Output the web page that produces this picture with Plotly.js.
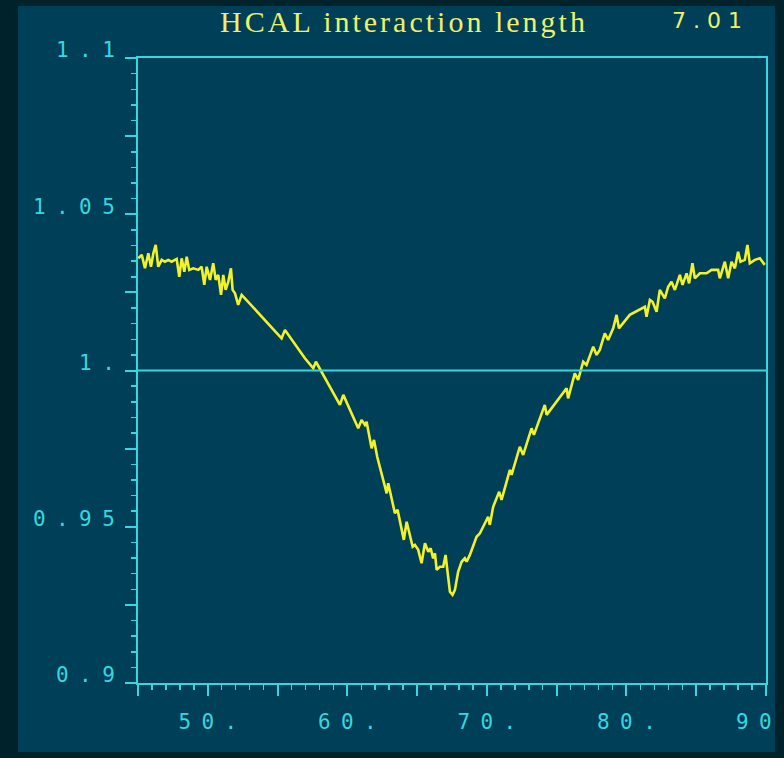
<!DOCTYPE html>
<html>
<head>
<meta charset="utf-8">
<script src="https://cdn.plot.ly/plotly-3.0.1.min.js"></script>
<style>
  html, body { margin: 0; padding: 0; background: #00222b; width: 784px; height: 758px; overflow: hidden; }
  #chart { position: absolute; left: 18px; top: 6px; width: 757px; height: 746px; overflow: hidden; background: #003f58; }
</style>
</head>
<body>
<div id="chart"></div>
<script>
// Data
const xVals = [45.02,45.27,45.50,45.74,45.93,46.10,46.27,46.45,46.70,46.93,47.17,47.41,47.77,47.96,48.13,48.32,48.49,48.67,48.96,49.32,49.56,49.75,49.92,50.16,50.39,50.57,50.75,50.95,51.11,51.28,51.47,51.66,51.78,51.95,52.18,52.43,52.66,55.29,55.53,56.96,57.56,57.75,59.47,59.71,60.78,61.02,61.26,61.38,61.74,61.91,62.14,62.82,62.93,63.41,63.60,64.05,64.25,64.68,64.84,65.08,65.32,65.56,65.80,65.97,66.15,66.28,66.40,66.63,66.87,67.04,67.18,67.35,67.54,67.71,67.94,68.19,68.42,68.55,68.78,69.26,69.50,69.74,70.09,70.21,70.45,70.88,71.05,71.65,71.77,72.36,72.60,73.20,73.37,74.15,74.28,75.71,75.82,76.30,76.54,76.90,77.14,77.62,77.86,78.09,78.45,78.69,79.05,79.29,79.46,80.24,81.32,81.44,81.68,81.87,82.16,82.39,82.75,82.99,83.23,83.47,83.83,84.02,84.31,84.49,84.73,84.90,85.26,85.74,86.10,86.57,86.69,87.05,87.29,87.53,87.77,88.00,88.17,88.48,88.67,88.84,89.20,89.56,89.91];
const yVals = [1.0359,1.0370,1.0327,1.0375,1.0332,1.0375,1.0402,1.0332,1.0354,1.0348,1.0354,1.0348,1.0357,1.0300,1.0359,1.0316,1.0364,1.0322,1.0327,1.0322,1.0332,1.0274,1.0332,1.0290,1.0343,1.0290,1.0306,1.0242,1.0306,1.0258,1.0284,1.0327,1.0258,1.0247,1.0210,1.0242,1.0231,1.0103,1.0130,1.0039,1.0007,1.0028,0.9890,0.9922,0.9815,0.9842,0.9826,0.9836,0.9751,0.9778,0.9724,0.9607,0.9639,0.9543,0.9554,0.9458,0.9516,0.9436,0.9442,0.9426,0.9383,0.9447,0.9420,0.9431,0.9399,0.9415,0.9362,0.9372,0.9372,0.9410,0.9356,0.9292,0.9282,0.9298,0.9356,0.9388,0.9399,0.9388,0.9410,0.9468,0.9479,0.9500,0.9532,0.9506,0.9564,0.9612,0.9586,0.9682,0.9666,0.9756,0.9730,0.9815,0.9794,0.9890,0.9858,0.9943,0.9911,0.9991,0.9970,1.0028,1.0018,1.0076,1.0050,1.0066,1.0119,1.0098,1.0135,1.0178,1.0135,1.0178,1.0204,1.0172,1.0226,1.0220,1.0188,1.0258,1.0231,1.0268,1.0284,1.0258,1.0306,1.0274,1.0311,1.0279,1.0343,1.0295,1.0311,1.0311,1.0322,1.0322,1.0295,1.0348,1.0295,1.0348,1.0327,1.0380,1.0348,1.0354,1.0402,1.0343,1.0354,1.0359,1.0338];

const xTickVals = [45,50,55,60,65,70,75,80,85,90];
const xTickLabels = ["","50.","","60.","","70.","","80.","",""];
const lastXVal = 90;
const lastXLabel = "90";   // drawn at the right edge, clipped in the original
const yTickVals = [0.9,0.925,0.95,0.975,1.0,1.025,1.05,1.075,1.1];
const yTickLabels = ["0.9","","0.95","","1.","","1.05","","1.1"];
const refLevel = 1.0;
const titleText = "HCAL interaction length";
const valueText = "7 . 0 1";

const CYAN = '#38d6de';
const YEL = '#f2f22a';

// wide character spacing like the original display (no trailing gap after last char)
function spaced(s) {
  if (s.length < 2) return s;
  return '<span style="letter-spacing:10.4px">' + s.slice(0, -1) + '</span>' + s.slice(-1);
}

const trace = {
  x: xVals, y: yVals, type: 'scatter', mode: 'lines',
  line: {color: YEL, width: 2.6}, hoverinfo: 'skip', showlegend: false
};

const layout = {
  width: 757, height: 746,
  paper_bgcolor: '#003f58', plot_bgcolor: '#003f58',
  margin: {l: 120, r: 9, t: 52, b: 69},
  showlegend: false,
  title: {
    text: '<span style="letter-spacing:3px">' + titleText + '</span>',
    x: (404-18)/757, xanchor: 'center', xref: 'container',
    y: 1 - (21-6)/746, yanchor: 'middle', yref: 'container',
    font: {family: 'Liberation Serif', size: 30, color: '#eef06a'}
  },
  xaxis: {
    range: [45, 90], showgrid: false, zeroline: false,
    showline: true, linecolor: CYAN, linewidth: 2, mirror: true,
    ticks: 'outside', ticklen: 11, tickwidth: 2, tickcolor: CYAN,
    tickmode: 'array', tickvals: xTickVals, ticktext: xTickLabels.map(spaced),
    tickfont: {family: 'DejaVu Sans Mono', size: 21, color: CYAN},
    ticklabelstandoff: 8, ticklabeloverflow: 'allow',
    minor: {dtick: 1, tick0: 45, ticks: 'outside', ticklen: 5, tickwidth: 1.5, tickcolor: CYAN, showgrid: false}
  },
  yaxis: {
    range: [0.9, 1.1], showgrid: false, zeroline: false,
    showline: true, linecolor: CYAN, linewidth: 2, mirror: true,
    ticks: 'outside', ticklen: 11, tickwidth: 2, tickcolor: CYAN,
    tickmode: 'array', tickvals: yTickVals, ticktext: yTickLabels.map(spaced),
    tickfont: {family: 'DejaVu Sans Mono', size: 21, color: CYAN},
    ticklabelshift: -8, ticklabelstandoff: 6, ticklabeloverflow: 'allow',
    minor: {dtick: 0.005, tick0: 0.9, ticks: 'outside', ticklen: 5, tickwidth: 1.5, tickcolor: CYAN, showgrid: false}
  },
  shapes: [{
    type: 'line', xref: 'paper', yref: 'y', x0: 0, x1: 1, y0: refLevel, y1: refLevel,
    line: {color: CYAN, width: 2}
  }],
  annotations: [{
    text: valueText, xref: 'paper', yref: 'paper',
    x: (707-138)/628, y: (683-20)/625, xanchor: 'center', yanchor: 'middle',
    showarrow: false, font: {family: 'DejaVu Sans', size: 22, color: '#eef06a'}
  }, {
    text: spaced(lastXLabel), xref: 'x', yref: 'paper',
    x: lastXVal, xshift: 8, xanchor: 'right', y: (683-722)/625, yanchor: 'middle',
    showarrow: false, font: {family: 'DejaVu Sans Mono', size: 21, color: CYAN}
  }]
};

Plotly.newPlot('chart', [trace], layout, {displayModeBar: false, staticPlot: true});
</script>
</body>
</html>
